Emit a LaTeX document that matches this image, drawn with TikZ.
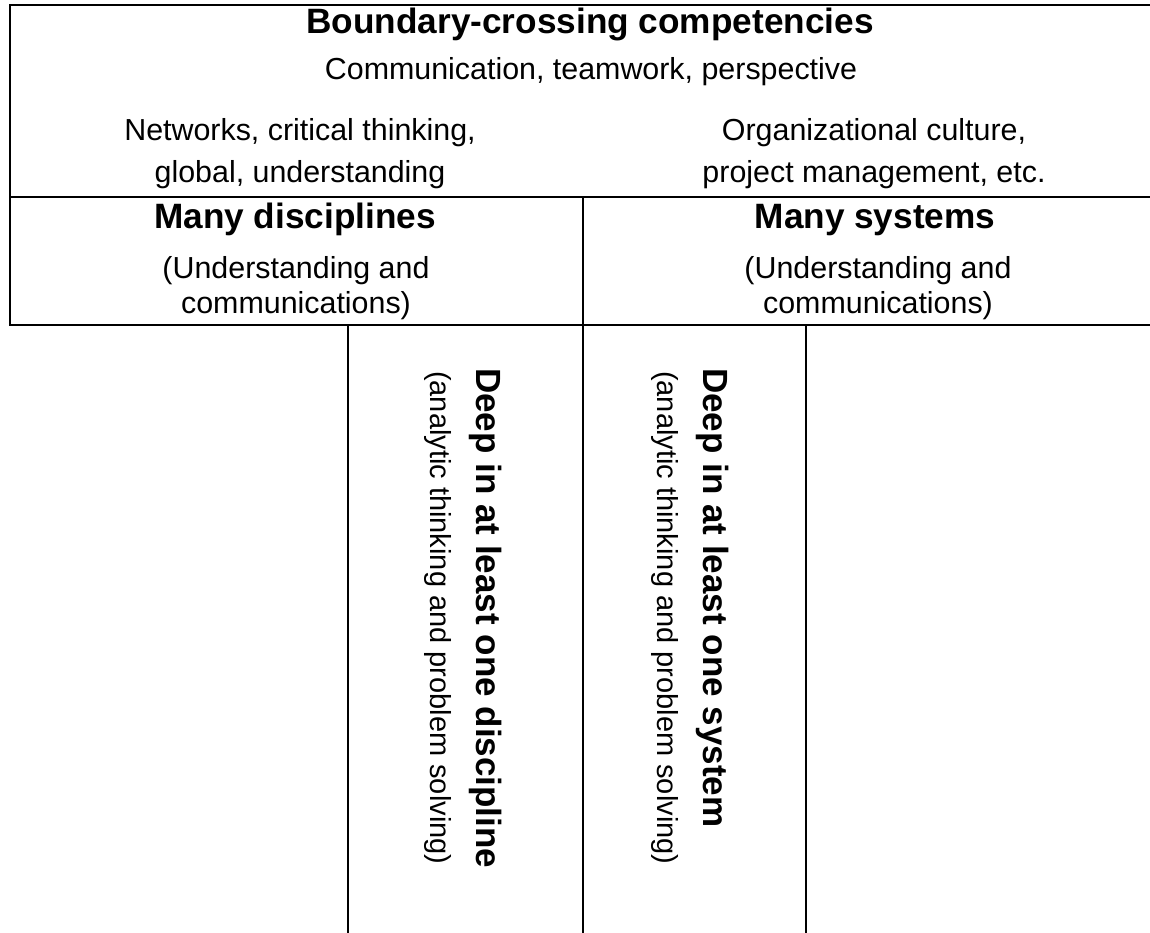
\documentclass[tikz,border=0pt]{standalone}
\usepackage{fontspec}
\setmainfont{Liberation Sans}
\begin{document}
\begin{tikzpicture}[x=1pt,y=-1pt,
    frame/.style={line width=2pt},
    headtxt/.style={font=\bfseries\fontsize{35.2}{40}\selectfont, inner sep=0pt, anchor=base},
    bodytxt/.style={font=\fontsize{30.4}{42}\selectfont, align=center, inner sep=0pt, anchor=base},
    subtxt/.style={font=\fontsize{30.4}{35}\selectfont, align=center, inner sep=0pt, anchor=base},
    deeptxt/.style={font=\bfseries\fontsize{35}{40}\selectfont, rotate=-90, inner sep=0pt, anchor=west},
    smalltxt/.style={font=\fontsize{29}{35}\selectfont, rotate=-90, inner sep=0pt, anchor=west}]
    % page and frame lines %
    \clip (0,0) rectangle (1150,932);
    \fill[white] (0,0) rectangle (1150,932);
    \draw[frame] (10,5) rectangle (1170,197);
    \draw[frame] (10,197) rectangle (583,325);
    \draw[frame] (583,197) rectangle (1170,325);
    \draw[frame] (348,325) -- (348,940);
    \draw[frame] (583,325) -- (583,940);
    \draw[frame] (806,325) -- (806,940);

    % boundary-crossing part %
    \node[headtxt] (bcross) at (590,33) {Boundary-crossing competencies};
    \node[bodytxt] (comm) at (591,79) {Communication, teamwork, perspective};
    \node[bodytxt] (netw) at (300,182) {Networks, critical thinking,\\global, understanding};
    \node[bodytxt] (orgcult) at (874,182) {Organizational culture,\\project management, etc.};

    % many disciplines / systems %
    \node[headtxt] (mdisc) at (295,228) {Many disciplines};
    \node[subtxt] (mdiscu) at (296,313) {(Understanding and\\communications)};
    \node[headtxt] (msyst) at (875,228) {Many systems};
    \node[subtxt] (msystu) at (878,313) {(Understanding and\\communications)};

    % deep columns %
    \node[deeptxt] (ddisc) at (486,368) {Deep in at least one discipline};
    \node[smalltxt] (adisc) at (438,371) {(analytic thinking and problem solving)};
    \node[deeptxt] (dsyst) at (713,368) {Deep in at least one system};
    \node[smalltxt] (asyst) at (665,371) {(analytic thinking and problem solving)};
\end{tikzpicture}
\end{document}
